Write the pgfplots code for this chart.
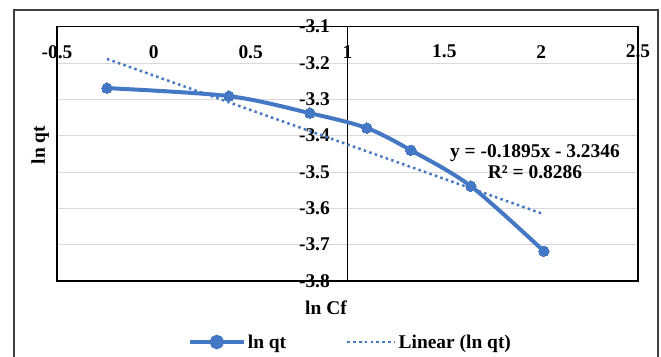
\documentclass[border=0pt]{standalone}
\usepackage{pgfplots}
\pgfplotsset{compat=1.18}
\usepackage{fontspec}
\setmainfont{Liberation Serif}
\definecolor{xlblue}{RGB}{68,119,196}
\definecolor{gridgray}{RGB}{217,217,217}
\definecolor{bordergray}{RGB}{64,64,64}
\newcommand\F{\fontsize{19.5}{21}\selectfont\bfseries}
\begin{document}
\begin{tikzpicture}[font=\F]
\useasboundingbox (-57bp,-76bp) rectangle (604bp,281bp);
\draw[bordergray, line width=1.6bp] (-43bp,-90bp) -- (-43bp,271bp) -- (601bp,271bp) -- (601bp,-90bp);
\begin{axis}[
  at={(0,0)}, anchor=south west,
  scale only axis, width=581bp, height=254.3bp,
  xmin=-0.5, xmax=2.5, ymin=-3.8, ymax=-3.1,
  xtick={-0.5,0,0.5,1,1.5,2,2.5},
  ytick={-3.8,-3.7,-3.6,-3.5,-3.4,-3.3,-3.2,-3.1},
  /pgf/number format/assume math mode=true,
  xticklabel pos=upper,
  xticklabel style={anchor=center, yshift=-25bp, font=\F},
  yticklabel style={anchor=east, inner sep=0pt, xshift=273bp, font=\F,
    /pgf/number format/.cd, fixed, precision=1, fixed zerofill},
  major tick length=0pt,
  ymajorgrids, grid style={gridgray, line width=1bp},
  axis line style={black, line width=1.2bp},
  extra x ticks={1}, extra x tick labels={},
  extra x tick style={grid=major, major grid style={black, line width=1.2bp}},
  xlabel={ln Cf}, xlabel style={at={(axis description cs:0.463,-0.106)}, anchor=center, font=\F},
  ylabel={ln qt}, ylabel style={at={(axis description cs:-0.029,0.535)}, anchor=center, font=\F},
  legend columns=2,
  legend style={at={(axis description cs:0.505,-0.24)}, anchor=center, draw=none, font=\F,
    nodes={inner sep=2bp},
    /tikz/every even column/.append style={column sep=58bp}},
  clip=false,
]
\addplot[xlblue, line width=4bp, smooth, mark=*, mark size=5.2bp,
  mark options={solid, fill=xlblue, draw=xlblue, line width=0pt},
  legend image code/.code={\draw[xlblue, line width=4bp] (0bp,0bp) -- (54bp,0bp); \fill[xlblue] (27bp,0bp) circle (5.2bp);}]
  coordinates {(-0.242,-3.269) (0.388,-3.291) (0.806,-3.338) (1.100,-3.379) (1.327,-3.440) (1.637,-3.539) (2.014,-3.718)};
\addlegendentry{ln qt}
\addplot[xlblue, line width=2.5bp, dash pattern=on 2.5bp off 3.3bp,
  legend image code/.code={\draw[xlblue, line width=2.5bp, dash pattern=on 2.5bp off 3.3bp] (0bp,0bp) -- (48bp,0bp);}]
  coordinates {(-0.242,-3.1887) (2.014,-3.6163)};
\addlegendentry{Linear (ln qt)}
\node[align=center, font=\F] at (axis cs:1.968,-3.471) {y = -0.1895x - 3.2346\\R² = 0.8286};
\end{axis}
\end{tikzpicture}
\end{document}
